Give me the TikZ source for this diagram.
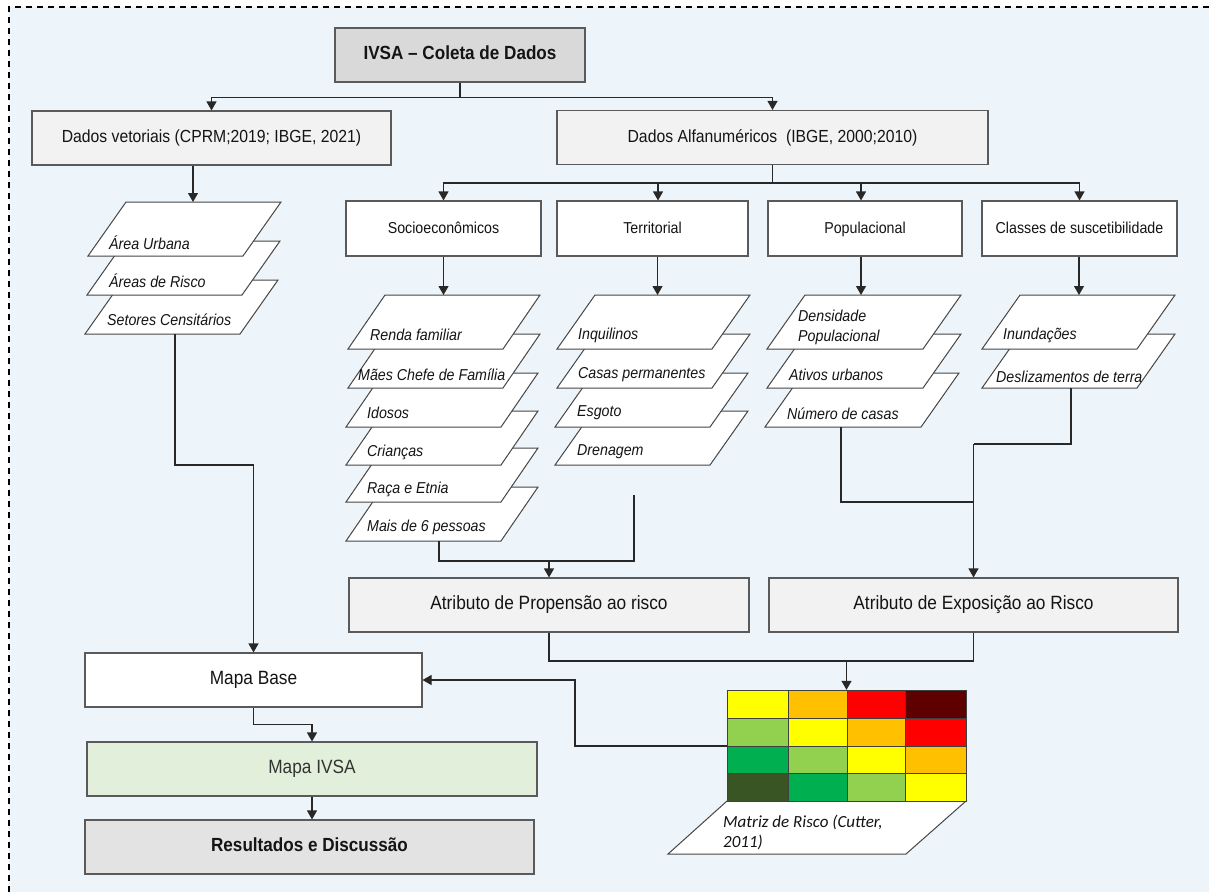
\documentclass[tikz,border=0pt]{standalone}
\usepackage{fontspec}
\setmainfont{Liberation Sans}[FakeStretch=0.9]
\newfontfamily\calib{Carlito}
\usetikzlibrary{arrows.meta}
\definecolor{bgblue}{RGB}{238,245,250}
\definecolor{linec}{RGB}{40,40,40}
\definecolor{boxc}{RGB}{90,90,90}
\definecolor{pgc}{RGB}{70,70,70}
\definecolor{txt}{RGB}{20,20,20}
\definecolor{titlefill}{RGB}{217,217,217}
\definecolor{lightfill}{RGB}{242,242,242}
\definecolor{resfill}{RGB}{227,227,227}
\definecolor{ivsafill}{RGB}{226,239,218}
\definecolor{cY}{RGB}{255,255,0}
\definecolor{cO}{RGB}{255,192,0}
\definecolor{cR}{RGB}{255,0,0}
\definecolor{cDR}{RGB}{94,0,0}
\definecolor{cLG}{RGB}{146,208,80}
\definecolor{cG}{RGB}{0,176,80}
\definecolor{cDG}{RGB}{58,85,36}
\newcommand{\pg}[5]{%
  \filldraw[pgm] (#2,#3) coordinate (#1-bl) -- ++(#4,0) -- ++(#5,-54) coordinate (#1-tr) -- ++(-#4,0) coordinate (#1-tl) -- cycle;}
\newcommand{\cell}[5]{\filldraw[fill=#5, draw=black!75, line width=0.7pt] (#1,#2) rectangle (#3,#4);}
\begin{document}
\begin{tikzpicture}[x=1pt,y=-1pt,
  conn/.style={draw=linec, line width=1.1pt},
  arr/.style={conn, -{Triangle[width=10pt,length=9pt]}},
  box/.style={draw=boxc, line width=1.1pt, inner sep=0pt, minimum height=54pt, text=txt, text height=12.5pt, text depth=3.5pt},
  pgm/.style={fill=white, draw=pgc, line width=1pt},
  it/.style={anchor=west, inner sep=0pt, font=\fontsize{15.8}{19}\selectfont\itshape, text=txt},
  lvA/.style={font=\fontsize{17.5}{21}\selectfont},
  lvB/.style={font=\fontsize{15.8}{19}\selectfont},
  lvC/.style={font=\fontsize{19.2}{23}\selectfont},
]
\useasboundingbox (0,0) rectangle (1209,892);
\fill[bgblue] (9,7) rectangle (1209,892);
\draw[black, line width=1.2pt, dash pattern=on 6pt off 5pt] (9,892) -- (9,7) -- (1209,7);

% ---- main boxes
\node[box, fill=titlefill, minimum width=250pt, font=\fontsize{19}{23}\selectfont\bfseries] (title) at (460,55) {IVSA -- Coleta de Dados};
\node[box, fill=lightfill, minimum width=359pt, lvA] (vet) at (211.5,138) {Dados vetoriais (CPRM;2019; IBGE, 2021)};
\node[box, fill=lightfill, minimum width=431pt, lvA] (alf) at (772.5,137.5) {Dados Alfanuméricos\ \ (IBGE, 2000;2010)};
\node[box, fill=white, minimum width=195pt, minimum height=55pt, lvB] (socio) at (443.5,228.5) {Socioeconômicos};
\node[box, fill=white, minimum width=191pt, minimum height=55pt, lvB] (terr) at (652.5,228.5) {Territorial};
\node[box, fill=white, minimum width=194pt, minimum height=55pt, lvB] (pop) at (865,228.5) {Populacional};
\node[box, fill=white, minimum width=195pt, minimum height=55pt, lvB] (cls) at (1079.5,228.5) {Classes de suscetibilidade};
\node[box, fill=lightfill, minimum width=400pt, lvC] (prop) at (549,605) {Atributo de Propensão ao risco};
\node[box, fill=lightfill, minimum width=409pt, lvC] (expo) at (973.5,605) {Atributo de Exposição ao Risco};
\node[box, fill=white, minimum width=337pt, lvC] (mapab) at (253.5,680) {Mapa Base};
\node[box, fill=ivsafill, minimum width=450pt, font=\fontsize{19.2}{23}\selectfont, text=black!80] (mapai) at (312,769) {Mapa IVSA};
\node[box, fill=resfill, minimum width=449pt, font=\fontsize{19}{23}\selectfont\bfseries] (res) at (309.5,847) {Resultados e Discussão};

% ---- left stack
\pg{setc}{85}{334}{155}{38}
\pg{arisc}{87}{295}{155}{38}
\pg{aurb}{88}{256}{155}{38}
\node[it] (taurb) at (109,243) {Área Urbana};
\node[it] (tarisc) at (109,281) {Áreas de Risco};
\node[it] (tsetc) at (107,320) {Setores Censitários};

% ---- socio stack
\pg{mais}{346}{541}{155}{37}
\pg{raca}{346}{502}{155}{37}
\pg{cria}{346}{465}{155}{37}
\pg{idos}{346}{427}{155}{37}
\pg{maes}{348}{388}{155}{37}
\pg{renda}{348}{349}{155}{37}
\node[it] (trenda) at (370,335) {Renda familiar};
\node[it] (tmaes) at (358,375) {Mães Chefe de Família};
\node[it] (tidos) at (367,413) {Idosos};
\node[it] (tcria) at (367,452) {Crianças};
\node[it] (traca) at (367,489) {Raça e Etnia};
\node[it] (tmais) at (367,527) {Mais de 6 pessoas};

% ---- territorial stack
\pg{dren}{555}{465}{155}{38}
\pg{esg}{555}{427}{155}{38}
\pg{casas}{557}{388}{155}{38}
\pg{inq}{557}{349}{155}{38}
\node[it] (tinq) at (578,335) {Inquilinos};
\node[it] (tcasas) at (578,375) {Casas permanentes};
\node[it] (tesg) at (577,413) {Esgoto};
\node[it] (tdren) at (577,452) {Drenagem};

% ---- populacional stack
\pg{num}{765}{427}{156}{38}
\pg{ativ}{767}{388}{156}{38}
\pg{dens}{767}{349}{156}{38}
\node[it, align=left, font=\fontsize{15.8}{20}\selectfont\itshape] (tdens) at (798,327) {Densidade\\Populacional};
\node[it] (tativ) at (789,375) {Ativos urbanos};
\node[it] (tnum) at (787,414) {Número de casas};

% ---- classes stack
\pg{desl}{982}{388}{155}{38}
\pg{inu}{982}{349}{155}{38}
\node[it] (tinu) at (1003,335) {Inundações};
\node[it] (tdesl) at (996,377) {Deslizamentos de terra};

% ---- risk matrix
\filldraw[pgm] (668,854) coordinate (mp-bl) -- (906,854) -- (966,801) -- (727,801) -- cycle;
\node[anchor=west, inner sep=0pt, align=left, font=\calib\fontsize{17}{20}\selectfont\itshape, text=txt] (tmat) at (723,832) {Matriz de Risco (Cutter,\\2011)};
\node[minimum width=239pt, minimum height=111pt, inner sep=0pt] (mat) at (846.5,745.5) {};
\cell{727}{690}{788}{718}{cY}
\cell{788}{690}{847}{718}{cO}
\cell{847}{690}{905}{718}{cR}
\cell{905}{690}{966}{718}{cDR}
\cell{727}{718}{788}{746}{cLG}
\cell{788}{718}{847}{746}{cY}
\cell{847}{718}{905}{746}{cO}
\cell{905}{718}{966}{746}{cR}
\cell{727}{746}{788}{773}{cG}
\cell{788}{746}{847}{773}{cLG}
\cell{847}{746}{905}{773}{cY}
\cell{905}{746}{966}{773}{cO}
\cell{727}{773}{788}{801}{cDG}
\cell{788}{773}{847}{801}{cG}
\cell{847}{773}{905}{801}{cLG}
\cell{905}{773}{966}{801}{cY}

% ---- connector coordinates
\coordinate (aU-t) at (193,202);
\coordinate (sc-b) at (175,334);
\coordinate (rf-t) at (443.5,295);
\coordinate (inq-t) at (657.5,295);
\coordinate (dens-t) at (861,295);
\coordinate (inu-t) at (1079,295);
\coordinate (mais-b) at (439,541);
\coordinate (terr-free) at (634,495);
\coordinate (j1) at (549,561);
\coordinate (num-b) at (841,427);
\coordinate (desl-b) at (1071,388);
\coordinate (j2) at (973.5,502);
\coordinate (j3) at (973.5,444);
\coordinate (j4) at (846.5,661);
\coordinate (mrow) at (727,746);
\coordinate (hub) at (772.5,183);

% ---- connectors
\draw[arr] (title.south) -- ++(0,15) -| (vet.north);
\draw[arr] (title.south) -- ++(0,15) -| (alf.north);
\draw[arr] (vet.south -| aU-t) -- (aU-t);
\draw[conn] (alf.south) -- (hub);
\draw[arr] (hub) -| (socio.north);
\draw[arr] (hub) -| ([xshift=5.5pt]terr.north);
\draw[arr] (hub) -| ([xshift=-4pt]pop.north);
\draw[arr] (hub) -| (cls.north);
\draw[arr] (socio.south) -- (rf-t);
\draw[arr] (terr.south -| inq-t) -- (inq-t);
\draw[arr] (pop.south -| dens-t) -- (dens-t);
\draw[arr] (cls.south -| inu-t) -- (inu-t);
\draw[arr] (sc-b) -- ++(0,131) -| (mapab.north);
\draw[conn] (mais-b) |- (j1);
\draw[conn] (terr-free) |- (j1);
\draw[arr] (j1) -- (prop.north);
\draw[conn] (num-b) |- (j2);
\draw[conn] (desl-b) |- (j3);
\draw[arr] (j3) -- (expo.north);
\draw[conn] (prop.south) |- (j4);
\draw[conn] (expo.south) |- (j4);
\draw[arr] (j4) -- (mat.north);
\draw[arr] (mrow) -- ++(-152,0) |- (mapab.east);
\draw[arr] (mapab.south) -- ++(0,17) -| (mapai.north);
\draw[arr] (mapai.south) -- (mapai.south |- res.north);
\end{tikzpicture}
\end{document}
